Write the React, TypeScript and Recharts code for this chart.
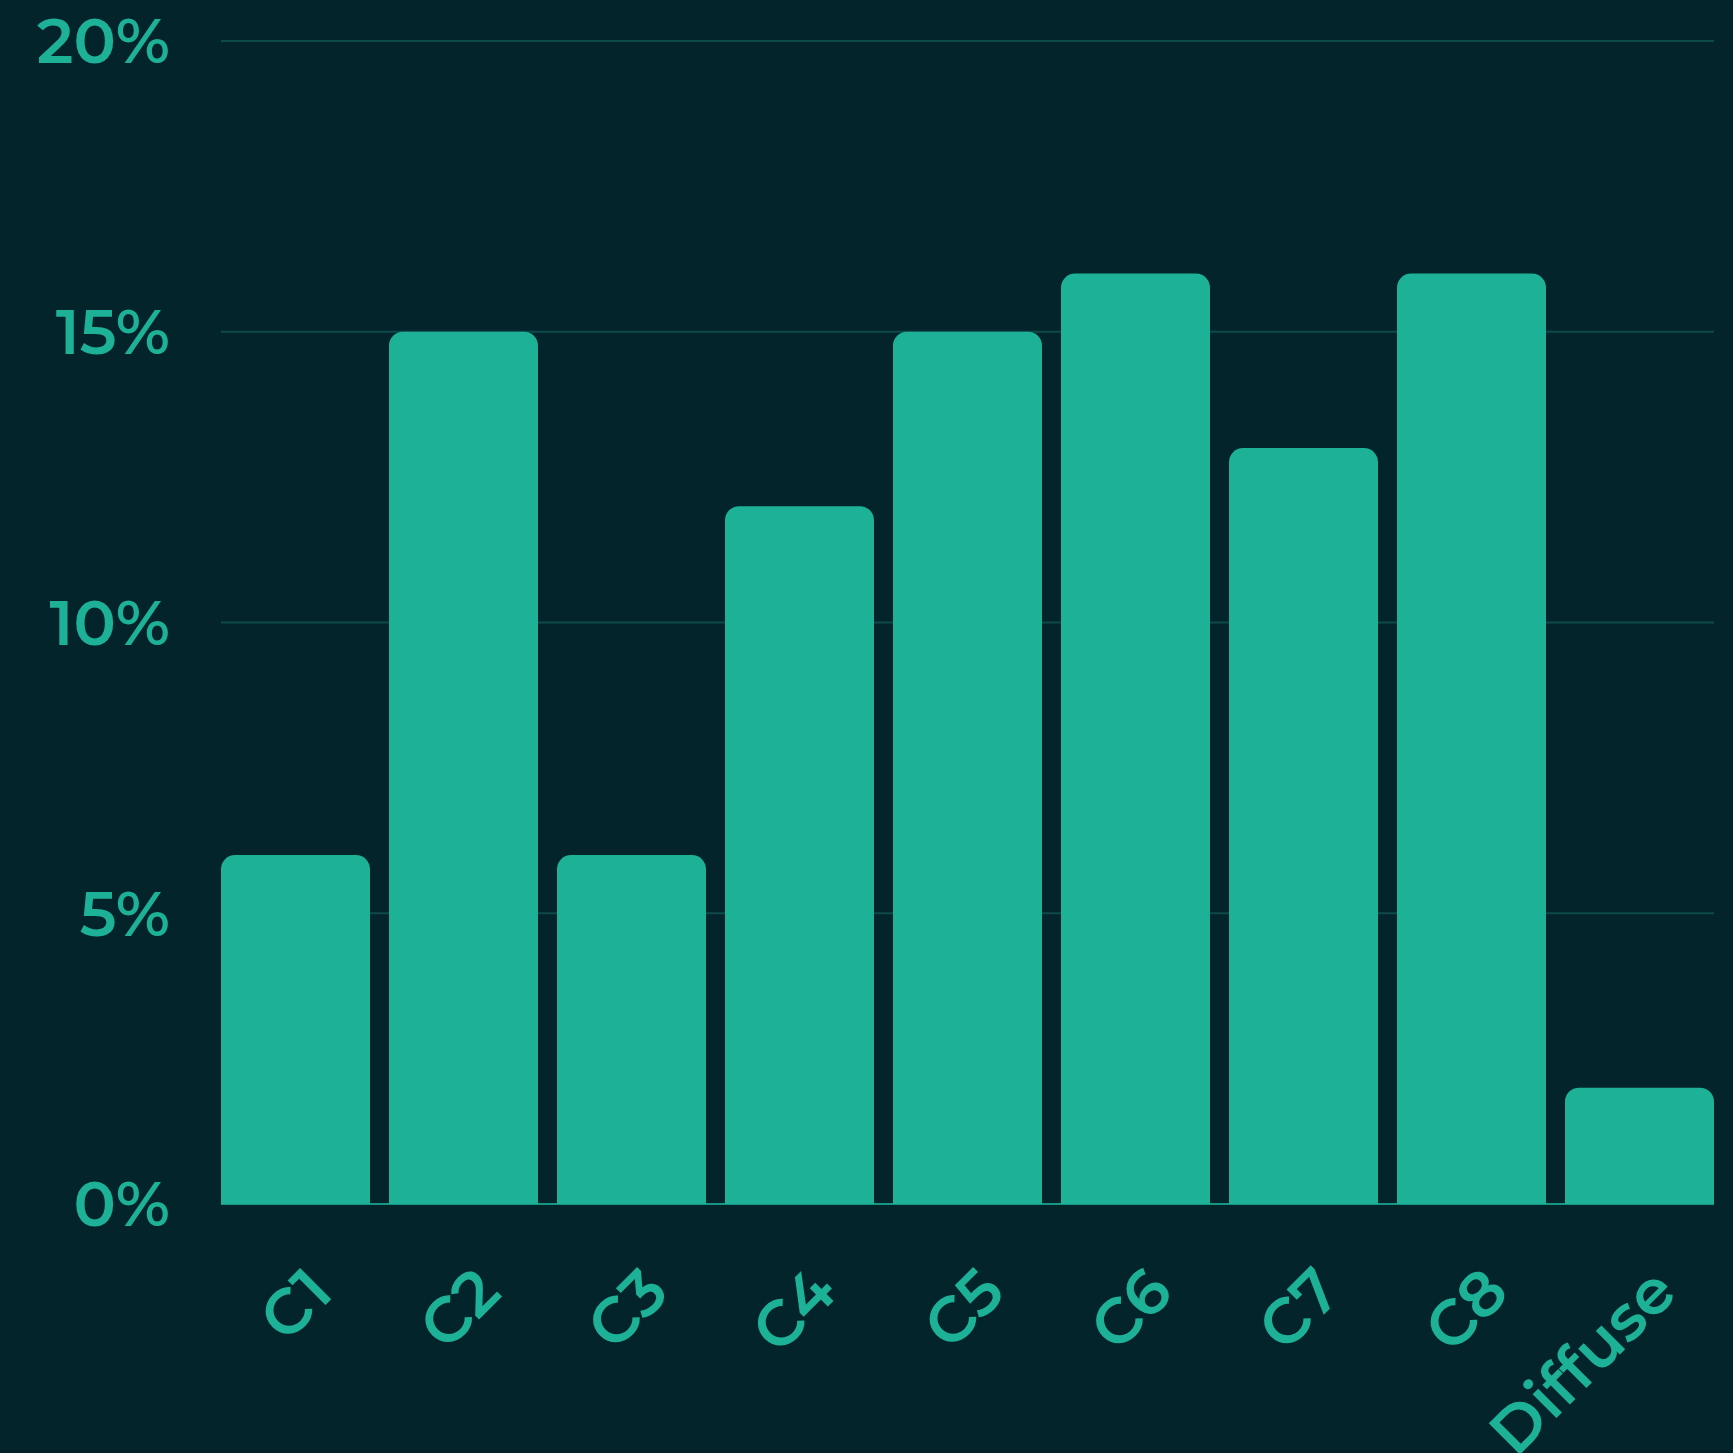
import { Bar, BarChart, CartesianGrid, XAxis, YAxis } from "recharts";

const CATEGORIES = ["C1", "C2", "C3", "C4", "C5", "C6", "C7", "C8", "Diffuse"];
const SHARES = [6, 15, 6, 12, 15, 16, 13, 16, 2];
const Y_TICKS = [0, 5, 10, 15, 20];

const BG = "#03242B";
const TEAL = "#1DB197";
const GRID = "#0F4A4B";
const FONT = "Montserrat, Inter, 'Noto Sans', sans-serif";

const rows = CATEGORIES.map((name, i) => ({ name, share: SHARES[i] }));

function SlantedTick({ x, y, payload }: { x: number; y: number; payload: { value: string } }) {
  // baseline end of the label sits below-right of the band centre
  const ax = x + 40;
  const ay = y + 91;
  return (
    <text
      x={ax}
      y={ay}
      transform={`rotate(-45 ${ax} ${ay})`}
      textAnchor="end"
      fill={TEAL}
      fontSize={63}
      fontWeight={600}
      fontFamily={FONT}
    >
      {payload.value}
    </text>
  );
}

export default function App() {
  return (
    <div style={{ position: "absolute", left: 0, top: 0, width: 1733, height: 1453, background: BG }}>
      <BarChart
        width={1733}
        height={1453}
        data={rows}
        margin={{ top: 41, right: 19, bottom: 0, left: 0 }}
        barCategoryGap={9.5}
      >
        <CartesianGrid vertical={false} stroke={GRID} strokeWidth={2} />
        <XAxis
          dataKey="name"
          height={249}
          padding={{ left: -9.5, right: -9.5 }}
          tickLine={false}
          tickSize={0}
          tickMargin={0}
          axisLine={{ stroke: TEAL, strokeWidth: 1.5 }}
          tick={SlantedTick}
          interval={0}
        />
        <YAxis
          width={221}
          domain={[0, 20]}
          ticks={Y_TICKS}
          tickFormatter={(v) => `${v}%`}
          axisLine={false}
          tickLine={false}
          tickSize={0}
          tickMargin={51}
          tick={{ fill: TEAL, fontSize: 63, fontWeight: 600, fontFamily: FONT }}
        />
        <Bar dataKey="share" fill={TEAL} radius={[14, 14, 0, 0]} isAnimationActive={false} />
      </BarChart>
    </div>
  );
}
